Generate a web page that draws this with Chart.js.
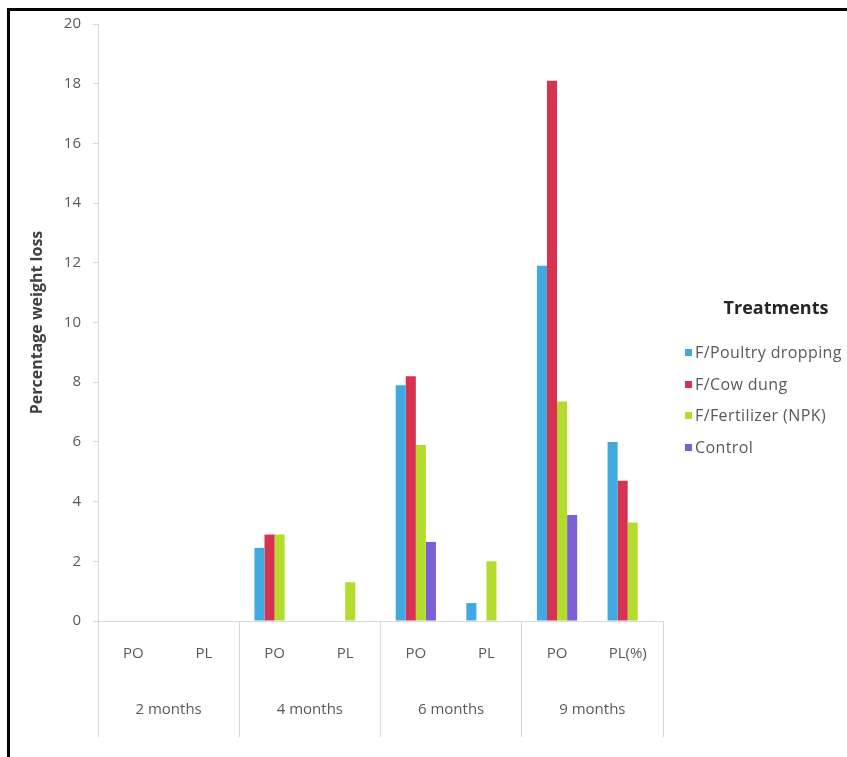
<!DOCTYPE html>
<html>
<head>
<meta charset="utf-8">
<script src="https://cdn.jsdelivr.net/npm/chart.js@4.4.1/dist/chart.umd.min.js"></script>
<style>
    html, body { margin: 0; padding: 0; background: #fff; overflow: hidden; width: 847px; height: 757px; }
    #frame { position: absolute; left: 7px; top: 8px; border: 3px solid #000; width: 837px; height: 746px; }
    #frame canvas { display: block; }
    #legend { position: absolute; left: 685px; top: 292px; font-family: "Open Sans", sans-serif; }
    #legend .title { position: absolute; left: 30px; top: 3px; width: 122px; text-align: center; font-weight: bold; font-size: 18px; color: #262626; white-space: nowrap; }
    #legend .item { position: absolute; left: 0; height: 20px; line-height: 20px; font-size: 16px; letter-spacing: 0.4px; color: #595959; white-space: nowrap; }
    #legend .item span { display: inline-block; width: 7px; height: 7px; margin-right: 3px; vertical-align: 2px; }
</style>
</head>
<body>
<div id="frame"><canvas id="weightLossChart" width="837" height="746"></canvas></div>
<div id="legend"></div>

<script>
// data
var subLabels = ['PO', 'PL', 'PO', 'PL', 'PO', 'PL', 'PO', 'PL(%)'];
var groupLabels = ['2 months', '4 months', '6 months', '9 months'];

var poultryDropping = [0, 0, 2.45, 0, 7.9, 0.6, 11.9, 6.0];
var cowDung = [0, 0, 2.9, 0, 8.2, 0, 18.1, 4.7];
var fertilizerNpk = [0, 0, 2.9, 1.3, 5.9, 2.0, 7.35, 3.3];
var control = [0, 0, 0, 0, 2.65, 0, 3.55, 0];

var yTicks = { min: 0, max: 20, step: 2 };

var seriesNames = ['F/Poultry dropping', 'F/Cow dung', 'F/Fertilizer (NPK)', 'Control'];
var seriesColors = ['#3fa9e0', '#d63350', '#b3dc2c', '#7a5fd9'];

var axisFont = { family: '"Open Sans", sans-serif', size: 15 };

var ctx = document.getElementById('weightLossChart').getContext('2d');

var weightChart = new Chart(ctx, {
    type: 'bar',
    data: {
        labels: subLabels,
        datasets: [poultryDropping, cowDung, fertilizerNpk, control].map(function (vals, i) {
            return {
                label: seriesNames[i],
                data: vals,
                backgroundColor: seriesColors[i],
                borderWidth: 0,
                categoryPercentage: 0.57,
                barPercentage: 1.0
            };
        })
    },
    options: {
        responsive: false,
        animation: false,
        layout: { padding: { left: 18, top: 13, right: 184, bottom: 20 } },
        plugins: {
            legend: { display: false },
            tooltip: { enabled: false }
        },
        scales: {
            y: {
                min: yTicks.min,
                max: yTicks.max,
                ticks: { stepSize: yTicks.step, padding: 12, color: '#595959', font: axisFont },
                grid: { drawOnChartArea: false, drawTicks: true, tickLength: 5, color: '#d9d9d9' },
                border: { color: '#d9d9d9' },
                title: {
                    display: true,
                    text: 'Percentage weight loss',
                    color: '#404040',
                    padding: 0,
                    font: { family: '"Open Sans", sans-serif', size: 16, weight: 'bold' }
                },
                afterFit: function (scale) {
                    scale.width = 70;
                    scale.paddingTop = 0;
                    scale.paddingBottom = 0;
                }
            },
            x: {
                // group separators are the long offset tick marks (every second boundary)
                grid: {
                    offset: true,
                    drawOnChartArea: false,
                    drawTicks: true,
                    tickLength: 116,
                    color: function (c) {
                        return (c.index === undefined || c.index % 2 === 0) ? '#d9d9d9' : 'rgba(0,0,0,0)';
                    }
                },
                border: { color: '#d9d9d9' },
                ticks: { padding: -92, color: '#595959', font: axisFont, maxRotation: 0, autoSkip: false },
                afterFit: function (scale) { scale.height = 50; }
            },
            x2: {
                type: 'category',
                position: 'bottom',
                weight: 1,
                labels: groupLabels,
                offset: true,
                grid: { display: false },
                border: { display: false },
                ticks: { padding: 22, color: '#595959', font: axisFont, maxRotation: 0, autoSkip: false },
                afterFit: function (scale) { scale.height = 66; }
            }
        }
    }
});

// html legend built from the chart datasets
var legendBox = document.getElementById('legend');
var html = '<div class="title">Treatments</div>';
weightChart.data.datasets.forEach(function (ds, i) {
    html += '<div class="item" style="top:' + (50 + i * 31.5) + 'px"><span style="background:' + ds.backgroundColor + '"></span>' + ds.label + '</div>';
});
legendBox.innerHTML = html;
</script>
</body>
</html>
